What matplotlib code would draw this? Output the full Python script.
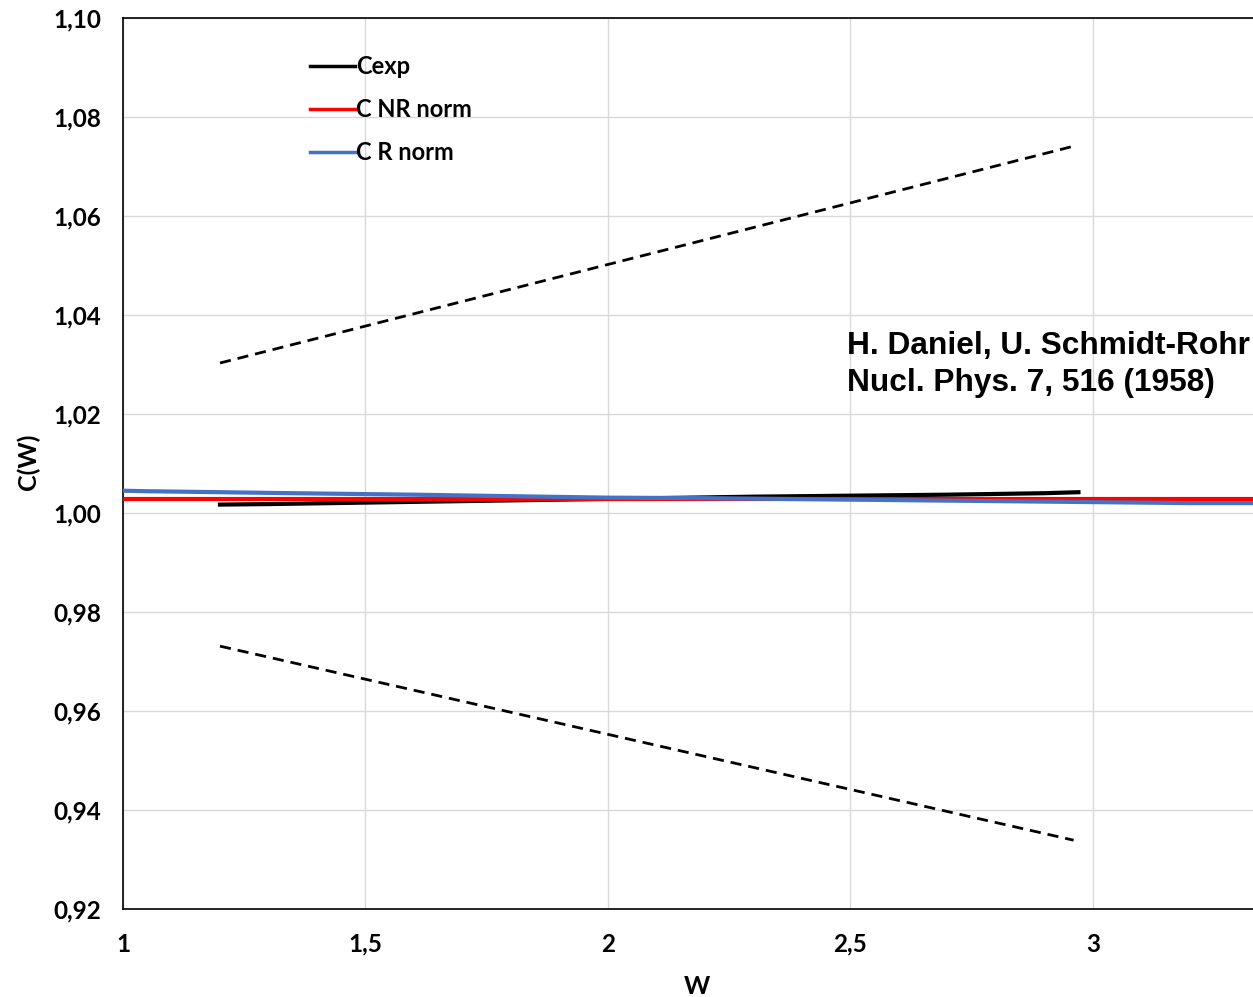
import numpy as np
import matplotlib.pyplot as plt
from matplotlib.ticker import FuncFormatter

# values
w_exp = [1.20, 1.30, 1.50, 1.70, 1.90, 2.10, 2.30, 2.50, 2.70, 2.90, 2.97]
c_exp = [1.0017, 1.0018, 1.0021, 1.0024, 1.0027, 1.0030, 1.0033, 1.0035, 1.0037, 1.0040, 1.0042]

w_nr = [1.0, 3.4]
c_nr = [1.0029, 1.0029]

w_r = [1.00, 1.05, 1.20, 1.35, 1.60, 1.80, 2.00, 2.20, 2.40, 2.60, 2.80, 3.00, 3.20, 3.40]
c_r = [1.0045, 1.0044, 1.0042, 1.0040, 1.0037, 1.0034, 1.0031, 1.0030, 1.0028, 1.0026, 1.0024, 1.0022, 1.0020, 1.0020]

w_band = [1.20, 2.96]
c_upper = [1.0303, 1.0741]
c_lower = [0.9731, 0.9339]

plt.rcParams['font.family'] = ['Lato', 'DejaVu Sans']

fig = plt.figure(figsize=(12.53, 9.97), dpi=100)
ax = fig.add_axes([123/1253, 1 - 909/997, 1130/1253, (909 - 18)/997])

ax.plot(w_band, c_upper, color='black', lw=2, ls=(0, (4, 2.5)))
ax.plot(w_band, c_lower, color='black', lw=2, ls=(0, (4, 2.5)))
ax.plot(w_exp, c_exp, color='black', lw=3, label='Cexp', zorder=3)
ax.plot(w_nr, c_nr, color='#ff0000', lw=3, label='C NR norm', zorder=4)
ax.plot(w_r, c_r, color='#4472c4', lw=3, label='C R norm', zorder=5)

ax.set_xlim(1, 1 + 1130/485)
ax.set_ylim(0.92, 1.10)
ax.set_xticks([1, 1.5, 2, 2.5, 3])
ax.set_yticks(np.arange(0.92, 1.101, 0.02))
ax.xaxis.set_major_formatter(FuncFormatter(lambda v, p: ('%g' % v).replace('.', ',')))
ax.yaxis.set_major_formatter(FuncFormatter(lambda v, p: ('%.2f' % v).replace('.', ',')))
ax.tick_params(length=0, labelsize=17.5)
ax.tick_params(axis='x', pad=17)
ax.tick_params(axis='y', pad=16)
for lab in ax.get_xticklabels() + ax.get_yticklabels():
    lab.set_fontweight('bold')
ax.grid(True, color='#d9d9d9', lw=1)
ax.set_axisbelow(True)
ax.spines['right'].set_visible(False)
for s in ['left', 'bottom', 'top']:
    ax.spines[s].set_linewidth(1.2)

ax.set_xlabel('W', fontsize=18, fontweight='bold')
ax.set_ylabel('C(W)', fontsize=18, fontweight='bold')
ax.xaxis.set_label_coords((697 - 123) / 1130, -0.074)
ax.yaxis.set_label_coords(-0.073, (909 - 462) / 891)

ax.text(2.492, 1.0368, 'H. Daniel, U. Schmidt-Rohr\nNucl. Phys. 7, 516 (1958)',
        fontsize=22.8, fontweight='bold', family=['Liberation Sans', 'DejaVu Sans'],
        linespacing=1.3, va='top', ha='left')

leg = ax.legend(loc='upper left', bbox_to_anchor=(0.147, 0.982), frameon=False,
                fontsize=17, handlelength=1.9, handletextpad=0.05, labelspacing=0.85)
for t in leg.get_texts():
    t.set_fontweight('bold')
for h in leg.get_lines():
    h.set_linewidth(2.5)

fig.savefig('out.png', dpi=100)
